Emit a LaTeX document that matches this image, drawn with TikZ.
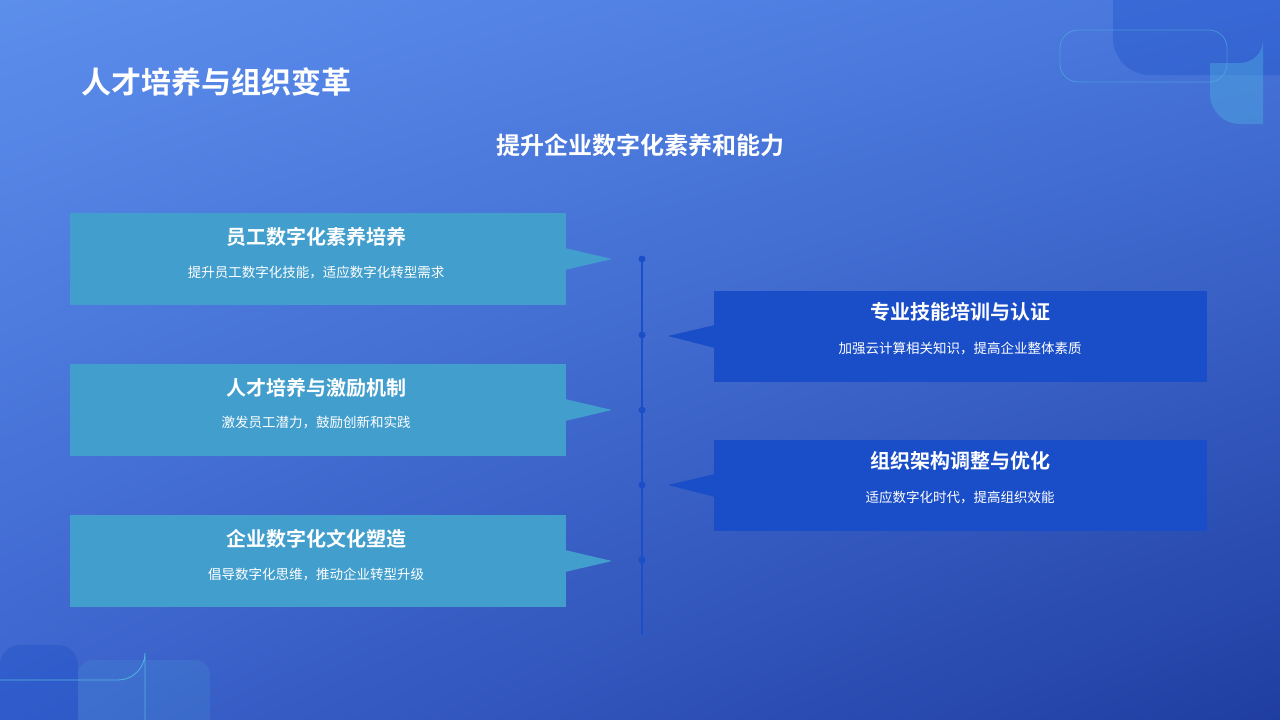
\documentclass[tikz,border=0pt]{standalone}
\usepackage{fontspec}
\usetikzlibrary{shadings}
\setmainfont{Noto Sans CJK SC}
\newfontfamily\bfcjk{Noto Sans CJK SC Bold}
\begin{document}
\begin{tikzpicture}[x=1pt,y=-1pt,
  dotc/.style={circle,fill=linec,inner sep=0pt,minimum size=7pt},
  ttl/.style={text=white,font=\bfcjk\fontsize{20}{24}\selectfont},
  sub/.style={text=white,font=\fontsize{13.5}{16}\selectfont}]
\definecolor{lboxc}{RGB}{65,158,205}
\definecolor{rboxc}{RGB}{26,78,200}
\definecolor{linec}{RGB}{28,78,200}
\definecolor{bgA}{RGB}{92,142,236}
\definecolor{bgB}{RGB}{72,118,220}
\definecolor{bgC}{RGB}{60,100,205}
\definecolor{bgD}{RGB}{32,62,162}
\definecolor{deco}{RGB}{80,180,225}
\useasboundingbox (0,0) rectangle (1280,720);
\shade[upper left=bgA,upper right=bgB,lower left=bgC,lower right=bgD] (0,0) rectangle (1280,720);
% decorations
\fill[rboxc,opacity=0.35] (1113,0) -- (1240,0) arc[start angle=90,end angle=0,radius=40] -- (1280,75) -- (1150,75) arc[start angle=90,end angle=180,radius=37] -- cycle;
\fill[deco,opacity=0.4] (1210,63) -- (1240,63) arc[start angle=90,end angle=0,radius=23] -- (1263,124) -- (1240,124) arc[start angle=90,end angle=180,radius=30] -- cycle;
\draw[deco,opacity=0.6,line width=0.8pt,rounded corners=18pt] (1060,30) rectangle (1227,82);
\fill[rboxc,opacity=0.35,rounded corners=20pt] (0,645) rectangle (78,740);
\fill[deco,opacity=0.15,rounded corners=15pt] (78,660) rectangle (210,740);
\draw[deco,line width=0.8pt] (0,680) -- (118,680) arc[start angle=90,end angle=0,radius=27] -- (145,720);
% titles
\node[anchor=west,text=white,font=\bfcjk\fontsize{30}{36}\selectfont] (title) at (78,82) {人才培养与组织变革};
\node[text=white,font=\bfcjk\fontsize{24}{28}\selectfont] (subtitle) at (640,145) {提升企业数字化素养和能力};
% timeline
\coordinate (top) at (642,259);
\coordinate (bot) at (642,635);
\draw[linec,line width=2.5pt] (top) -- (bot);
\foreach \y/\n in {259/d1,335/d2,410/d3,485/d4,560/d5} \node[dotc] (\n) at (642,\y) {};
% left boxes
\foreach \y/\t/\s/\n in {213/员工数字化素养培养/{提升员工数字化技能，适应数字化转型需求}/a,364/人才培养与激励机制/{激发员工潜力，鼓励创新和实践}/b,515/企业数字化文化塑造/{倡导数字化思维，推动企业转型升级}/c}{
  \fill[lboxc] (70,\y) rectangle (566,\y+92);
  \fill[lboxc] (565,\y+35) -- (612,\y+46) -- (565,\y+57) -- cycle;
  \node[ttl] (\n t) at (316,\y+24) {\t};
  \node[sub] (\n s) at (316,\y+59) {\s};
}
\foreach \y/\t/\s/\n in {291/专业技能培训与认证/{加强云计算相关知识，提高企业整体素质}/d,440/组织架构调整与优化/{适应数字化时代，提高组织效能}/e}{
  \fill[rboxc] (714,\y) rectangle (1207,\y+91);
  \fill[rboxc] (715,\y+34) -- (668,\y+45) -- (715,\y+57) -- cycle;
  \node[ttl] (\n t) at (960,\y+21) {\t};
  \node[sub] (\n s) at (960,\y+57) {\s};
}
\end{tikzpicture}
\end{document}
